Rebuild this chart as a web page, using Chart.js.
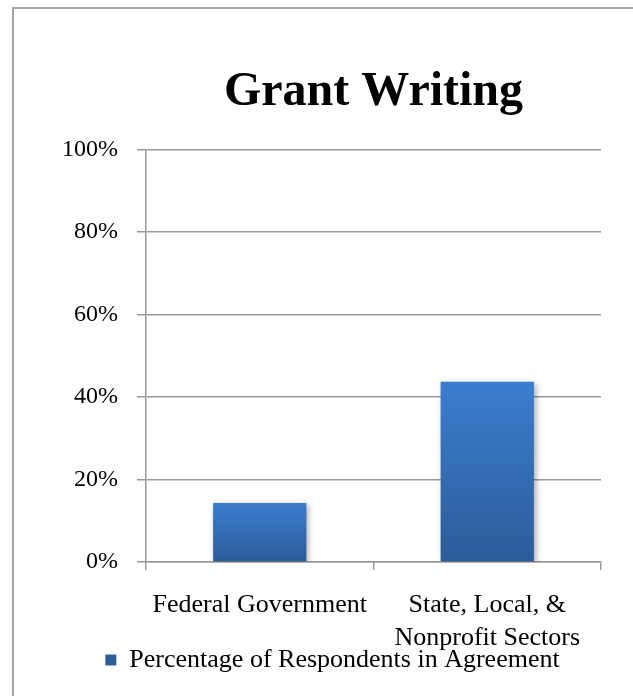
<!DOCTYPE html>
<html>
<head>
<meta charset="utf-8">
<script src="https://cdn.jsdelivr.net/npm/chart.js@4.4.1/dist/chart.umd.min.js"></script>
<style>
  html, body { margin: 0; padding: 0; background: #fff; }
  #wrap { position: relative; width: 633px; height: 696px; overflow: hidden; }
  #frame {
    position: absolute; left: 12px; top: 7px; width: 640px; height: 700px;
    border-top: 2px solid #a6a6a6; border-left: 2px solid #a6a6a6;
  }
  #grantChart { position: absolute; left: 0; top: 0; }
</style>
</head>
<body>
<div id="wrap">
  <div id="frame"></div>
  <canvas id="grantChart" width="633" height="696"></canvas>
</div>
<script>
const categories = ['Federal Government', ['State, Local, &', 'Nonprofit Sectors']]
const agreementValues = [14.3, 43.7]
const yTicks = [0, 20, 40, 60, 80, 100]
const seriesLabel = 'Percentage of Respondents in Agreement'

const serif = '"Liberation Serif", "Times New Roman", serif'

// vertical gradient per bar, from bar top to the zero line
function barGradient(context) {
  const chart = context.chart
  const yScale = chart.scales.y
  if (!yScale || context.type !== 'data') return '#3a7bcb'
  const top = yScale.getPixelForValue(context.raw)
  const bottom = yScale.getPixelForValue(0)
  if (!isFinite(top) || !isFinite(bottom) || top === bottom) return '#3a7bcb'
  const g = chart.ctx.createLinearGradient(0, top, 0, bottom)
  g.addColorStop(0, '#3b7dce')
  g.addColorStop(1, '#2c5c99')
  return g
}

// soft drop shadow behind the bars
const barShadow = {
  id: 'barShadow',
  beforeDatasetsDraw(chart) {
    const ctx = chart.ctx
    ctx.save()
    ctx.shadowColor = 'rgba(0, 0, 0, 0.35)'
    ctx.shadowBlur = 6
    ctx.shadowOffsetX = 2
    ctx.shadowOffsetY = 2
  },
  afterDatasetsDraw(chart) {
    chart.ctx.restore()
  }
}

// the legend tucks up against the two-line category label, as in the original
const legendNudge = {
  id: 'legendNudge',
  afterLayout(chart) {
    if (!chart.legend) return
    chart.legend.top -= 10
    chart.legend.bottom -= 10
  }
}

const ctx = document.getElementById('grantChart').getContext('2d')

new Chart(ctx, {
  type: 'bar',
  data: {
    labels: categories,
    datasets: [
      {
        label: seriesLabel,
        data: agreementValues,
        backgroundColor: barGradient,
        borderWidth: 0,
        barPercentage: 0.41,
        categoryPercentage: 1
      }
    ]
  },
  plugins: [barShadow, legendNudge],
  options: {
    responsive: false,
    animation: false,
    layout: {
      // extra left padding shifts the legend; y axis width compensates
      padding: { left: 64, right: 32, top: 0, bottom: 3 }
    },
    plugins: {
      title: {
        display: true,
        fullSize: false, // centre over the plot area like the original
        text: 'Grant Writing',
        color: '#000',
        font: { family: serif, size: 48, weight: 'bold' },
        padding: { top: 64, bottom: 28 }
      },
      legend: {
        position: 'bottom',
        labels: {
          color: '#000',
          font: { family: serif, size: 26 },
          boxWidth: 11,
          boxHeight: 11,
          padding: 0
        }
      },
      tooltip: { enabled: false }
    },
    scales: {
      x: {
        grid: {
          drawOnChartArea: false,
          drawTicks: true,
          tickLength: 8,
          color: '#999',
          lineWidth: 1.5
        },
        border: { display: true, color: '#999', width: 1.5 },
        ticks: {
          color: '#000',
          font: { family: serif, size: 26, lineHeight: 1.25 },
          padding: 19,
          maxRotation: 0,
          autoSkip: false
        },
        afterFit: function (scale) {
          scale.height = 95
        }
      },
      y: {
        min: 0,
        max: 100,
        afterBuildTicks: function (scale) {
          scale.ticks = yTicks.map((v) => ({ value: v }))
        },
        grid: {
          color: '#999',
          lineWidth: 1.5,
          tickLength: 9
        },
        border: { display: true, color: '#999', width: 1.5 },
        ticks: {
          color: '#000',
          font: { family: serif, size: 24 },
          padding: 19,
          callback: function (value) {
            return value + '%'
          }
        },
        afterFit: function (scale) {
          scale.width = 82
        }
      }
    }
  }
})
</script>
</body>
</html>
